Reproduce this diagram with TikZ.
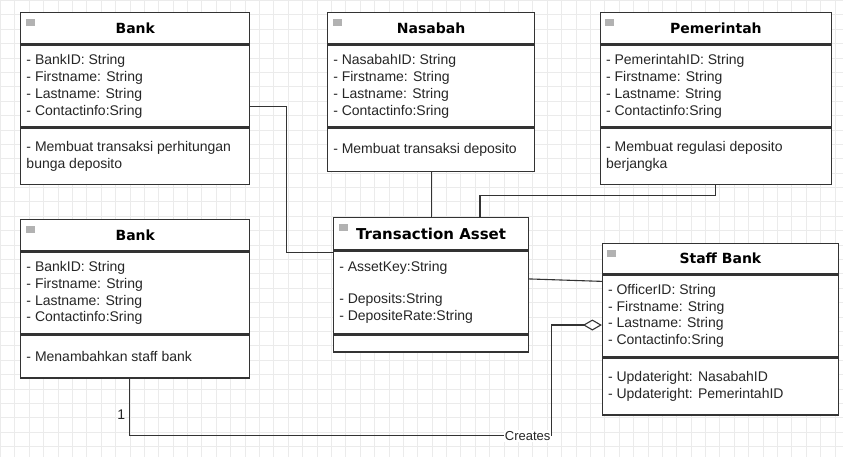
\documentclass[tikz,border=0pt]{standalone}
\usepackage{fontspec}
\setmainfont{Liberation Sans}
\newfontfamily\headfont{DejaVu Sans}
\usetikzlibrary{calc,positioning,arrows.meta}

\tikzset{
  hd/.style={draw=black!80, line width=1.2pt, fill=white, anchor=north west, inner sep=0pt,
    font=\headfont\bfseries\fontsize{14}{16}\selectfont,
    path picture={\fill[black!30] ([shift={(5pt,-6pt)}]path picture bounding box.north west) rectangle ++(9pt,-7pt);}},
  sec/.style={draw=black!80, line width=1.2pt, fill=white, anchor=north west, inner sep=0pt},
  txt/.style={align=left, inner sep=0pt, text=black!85, font=\fontsize{14}{17}\selectfont},
  link/.style={draw=black!80, line width=1.1pt},
  lbl/.style={inner sep=1pt, fill=white, text=black!85, font=\fontsize{13}{15}\selectfont},
}

\begin{document}
\begin{tikzpicture}[x=1pt,y=-1pt]
  % Background grid
  \fill[white] (0,0) rectangle (843,457);
  \draw[black!8, line width=0.6pt, step=14.4pt] (0,0) grid (843,457);
  \useasboundingbox (0,0) rectangle (843,457);

  % Bank (top)
  \node[hd, minimum width=229pt, minimum height=31pt] (bankA-h) at (20,12) {Bank};
  \node[sec, minimum width=229pt, minimum height=82pt] (bankA-a) at (bankA-h.south west) {};
  \node[sec, minimum width=229pt, minimum height=56pt] (bankA-m) at (bankA-a.south west) {};
  \node[txt, right=6pt of bankA-a.west] (bankA-at) {- BankID: String\\- Firstname: String\\- Lastname: String\\- Contactinfo:Sring};
  \node[txt, right=6pt of bankA-m.west] (bankA-mt) {- Membuat transaksi perhitungan\\bunga deposito};

  % Nasabah
  \node[hd, minimum width=207pt, minimum height=31pt] (nasabah-h) at (327,12) {Nasabah};
  \node[sec, minimum width=207pt, minimum height=82pt] (nasabah-a) at (nasabah-h.south west) {};
  \node[sec, minimum width=207pt, minimum height=43pt] (nasabah-m) at (nasabah-a.south west) {};
  \node[txt, right=6pt of nasabah-a.west] (nasabah-at) {- NasabahID: String\\- Firstname: String\\- Lastname: String\\- Contactinfo:Sring};
  \node[txt, right=6pt of nasabah-m.west] (nasabah-mt) {- Membuat transaksi deposito};

  % Pemerintah
  \node[hd, minimum width=231pt, minimum height=31pt] (pemerintah-h) at (600,12) {Pemerintah};
  \node[sec, minimum width=231pt, minimum height=82pt] (pemerintah-a) at (pemerintah-h.south west) {};
  \node[sec, minimum width=231pt, minimum height=56pt] (pemerintah-m) at (pemerintah-a.south west) {};
  \node[txt, right=6pt of pemerintah-a.west] (pemerintah-at) {- PemerintahID: String\\- Firstname: String\\- Lastname: String\\- Contactinfo:Sring};
  \node[txt, right=6pt of pemerintah-m.west] (pemerintah-mt) {- Membuat regulasi deposito\\berjangka};

  % Bank (bottom)
  \node[hd, minimum width=229pt, minimum height=31pt] (bankB-h) at (20,219) {Bank};
  \node[sec, minimum width=229pt, minimum height=82pt] (bankB-a) at (bankB-h.south west) {};
  \node[sec, minimum width=229pt, minimum height=43pt] (bankB-m) at (bankB-a.south west) {};
  \node[txt, right=6pt of bankB-a.west] (bankB-at) {- BankID: String\\- Firstname: String\\- Lastname: String\\- Contactinfo:Sring};
  \node[txt, right=6pt of bankB-m.west] (bankB-mt) {- Menambahkan staff bank};

  % Transaction Asset
  \node[hd, minimum width=195pt, minimum height=32pt, font=\headfont\bfseries\fontsize{15}{17}\selectfont] (trans-h) at (333,217) {Transaction Asset};
  \node[sec, minimum width=195pt, minimum height=83pt] (trans-a) at (trans-h.south west) {};
  \node[sec, minimum width=195pt, minimum height=17pt] (trans-m) at (trans-a.south west) {};
  \node[txt, right=6pt of trans-a.west] (trans-at) {- AssetKey:String\\[15pt]- Deposits:String\\- DepositeRate:String};

  % Staff Bank
  \node[hd, minimum width=236pt, minimum height=30pt] (staff-h) at (602,243) {Staff Bank};
  \node[sec, minimum width=236pt, minimum height=82pt] (staff-a) at (staff-h.south west) {};
  \node[sec, minimum width=236pt, minimum height=57pt] (staff-m) at (staff-a.south west) {};
  \node[txt, right=6pt of staff-a.west] (staff-at) {- OfficerID: String\\- Firstname: String\\- Lastname: String\\- Contactinfo:Sring};
  \node[txt, right=6pt of staff-m.west] (staff-mt) {- Updateright: NasabahID\\- Updateright: PemerintahID};

  % Connectors
  \draw[link] ($(bankA-a.north east)!0.75!(bankA-a.south east)$) -- ++(36,0) |- ([yshift=-2pt]trans-a.north west);
  \draw[link] (nasabah-m.south) -- (nasabah-m.south |- trans-h.north);
  \draw[link] (pemerintah-m.south) -- ++(0,11) -| ($(trans-h.north west)+(147,0)$);
  \draw[link] ($(trans-a.north east)!0.34!(trans-a.south east)$) -- ($(staff-a.north west)!0.085!(staff-a.south west)$);
  \draw[link, {Diamond[open, length=19pt, width=11pt]}-] ($(staff-a.north west)!0.61!(staff-a.south west)$) -- ++(-50,0) -- ++(0,111) node[lbl, anchor=east] (creates) {Creates} -| ($(bankB-m.south)+(-6,0)$);
  \node[txt, left=4pt] (one) at ($(bankB-m.south)+(-6,36)$) {1};
\end{tikzpicture}
\end{document}
